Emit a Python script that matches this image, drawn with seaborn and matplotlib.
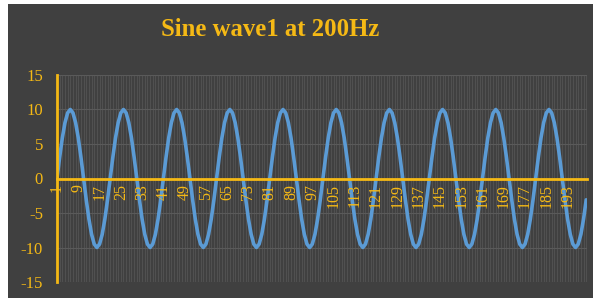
import matplotlib
matplotlib.use("Agg")
import matplotlib.pyplot as plt
import seaborn as sns
import pandas as pd
from matplotlib.patches import Rectangle

# Data: sine wave, amplitude 10, period 20 samples, 200 samples
sample_index = list(range(1, 201))
amplitude = [
    0, 3.09, 5.88, 8.09, 9.51, 10, 9.51, 8.09, 5.88, 3.09, 0, -3.09, -5.88, -8.09, -9.51, -10, -9.51, -8.09, -5.88, -3.09,
    0, 3.09, 5.88, 8.09, 9.51, 10, 9.51, 8.09, 5.88, 3.09, 0, -3.09, -5.88, -8.09, -9.51, -10, -9.51, -8.09, -5.88, -3.09,
    0, 3.09, 5.88, 8.09, 9.51, 10, 9.51, 8.09, 5.88, 3.09, 0, -3.09, -5.88, -8.09, -9.51, -10, -9.51, -8.09, -5.88, -3.09,
    0, 3.09, 5.88, 8.09, 9.51, 10, 9.51, 8.09, 5.88, 3.09, 0, -3.09, -5.88, -8.09, -9.51, -10, -9.51, -8.09, -5.88, -3.09,
    0, 3.09, 5.88, 8.09, 9.51, 10, 9.51, 8.09, 5.88, 3.09, 0, -3.09, -5.88, -8.09, -9.51, -10, -9.51, -8.09, -5.88, -3.09,
    0, 3.09, 5.88, 8.09, 9.51, 10, 9.51, 8.09, 5.88, 3.09, 0, -3.09, -5.88, -8.09, -9.51, -10, -9.51, -8.09, -5.88, -3.09,
    0, 3.09, 5.88, 8.09, 9.51, 10, 9.51, 8.09, 5.88, 3.09, 0, -3.09, -5.88, -8.09, -9.51, -10, -9.51, -8.09, -5.88, -3.09,
    0, 3.09, 5.88, 8.09, 9.51, 10, 9.51, 8.09, 5.88, 3.09, 0, -3.09, -5.88, -8.09, -9.51, -10, -9.51, -8.09, -5.88, -3.09,
    0, 3.09, 5.88, 8.09, 9.51, 10, 9.51, 8.09, 5.88, 3.09, 0, -3.09, -5.88, -8.09, -9.51, -10, -9.51, -8.09, -5.88, -3.09,
    0, 3.09, 5.88, 8.09, 9.51, 10, 9.51, 8.09, 5.88, 3.09, 0, -3.09, -5.88, -8.09, -9.51, -10, -9.51, -8.09, -5.88, -3.09,
]
x_tick_labels = [str(v) for v in range(1, 201, 8)]
y_tick_values = [-15, -10, -5, 0, 5, 10, 15]
title_text = "Sine wave1 at 200Hz"

GOLD = "#F5B915"
BG = "#404040"
LINE = "#5B9BD5"
GRID = "#545454"

sns.set_theme(style="dark")
plt.rcParams["font.family"] = ["Liberation Serif", "DejaVu Serif"]

df = pd.DataFrame({"x": sample_index, "y": amplitude})

fig = plt.figure(figsize=(5.93, 2.98), dpi=100)
fig.patch.set_facecolor("white")
fig.patches.append(Rectangle((8 / 593, 0), 1, 1 - 4 / 298, transform=fig.transFigure,
                             facecolor=BG, edgecolor="none", zorder=-10))

ax = fig.add_axes([57 / 593, 16 / 298, 530 / 593, 207 / 298])
ax.set_facecolor(BG)

# faint vertical gridline at every category
ax.vlines(sample_index, -15, 15, colors=GRID, linewidth=0.6, zorder=0.5)
# horizontal gridlines
ax.hlines([v for v in y_tick_values if v != 0], 1, 200.3, colors="#5a5a5a", linewidth=0.8, zorder=0.6)

sns.lineplot(data=df, x="x", y="y", ax=ax, color=LINE, linewidth=2.6, zorder=2)

ax.set_xlim(1, 200.3)
ax.set_ylim(-15, 15)
ax.grid(False)
ax.set_axisbelow(False)

for s in ["top", "right"]:
    ax.spines[s].set_visible(False)
ax.spines["bottom"].set_position(("data", 0))
ax.spines["bottom"].set_color(GOLD)
ax.spines["bottom"].set_linewidth(2)
ax.spines["bottom"].set_zorder(2.6)
ax.spines["left"].set_color(GOLD)
ax.spines["left"].set_linewidth(2)

ax.set_xticks([int(t) for t in x_tick_labels])
ax.set_xticklabels(x_tick_labels)
ax.set_yticks(y_tick_values)
ax.set_yticklabels([str(v) for v in y_tick_values])

ax.tick_params(axis="x", which="major", length=3, color=GOLD, pad=1, direction="out",
               labelrotation=90, labelcolor=GOLD, labelsize=11.5)
ax.tick_params(axis="y", length=0, pad=10, labelcolor=GOLD, labelsize=12)

ax.set_xlabel("")
ax.set_ylabel("")

fig.text(270.5 / 593, (298 - 36) / 298, title_text, ha="center", va="baseline",
         color=GOLD, fontsize=17.8, fontweight="bold")

fig.savefig("out.png", dpi=100, facecolor=fig.get_facecolor())
